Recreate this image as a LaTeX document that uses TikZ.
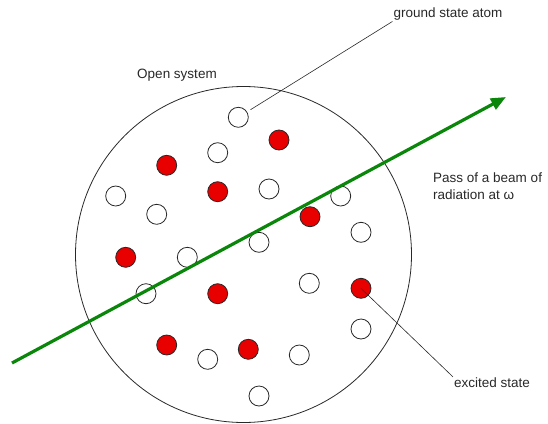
\documentclass[tikz,border=0pt]{standalone}
\usepackage{fontspec}
\setmainfont{Liberation Sans}
\usetikzlibrary{arrows.meta, positioning}
\definecolor{beam-color}{RGB}{10,135,10}
\definecolor{excited-color}{RGB}{232,0,0}
\definecolor{ink-color}{RGB}{40,40,40}

\begin{document}
\begin{tikzpicture}[x=1pt, y=-1pt,
    ground/.style={circle, draw=ink-color, fill=white, minimum size=20pt, inner sep=0pt, line width=0.8pt},
    excited/.style={ground, fill=excited-color},
    label/.style={font=\fontsize{13.5}{17}\selectfont, text=ink-color, inner sep=1pt, align=left},
    leader/.style={draw=ink-color, line width=0.6pt},
    beam/.style={-{Triangle[length=15pt, width=12pt]}, draw=beam-color, line width=3.2pt}]

    \useasboundingbox (0,0) rectangle (548,423);

    % The open system
    \draw[ink-color, line width=0.8pt] (243.5,254.5) circle (168);
    \node[label] (sys) at (177,75) {Open system};

    % Ground state atoms
    \node[ground] (g1) at (238.3,117.3) {};
    \node[ground] (g2) at (217.7,152.7) {};
    \node[ground] (g3) at (115.7,196) {};
    \node[ground] (g4) at (156.7,214.3) {};
    \node[ground] (g5) at (269,189) {};
    \node[ground] (g6) at (340.7,196) {};
    \node[ground] (g7) at (361,232.3) {};
    \node[ground] (g8) at (259,242.3) {};
    \node[ground] (g9) at (187.3,257.3) {};
    \node[ground] (g10) at (146,293.7) {};
    \node[ground] (g11) at (309.3,283.3) {};
    \node[ground] (g12) at (361,329) {};
    \node[ground] (g13) at (207.7,359.3) {};
    \node[ground] (g14) at (299.3,355) {};
    \node[ground] (g15) at (259,396) {};

    % Excited atoms
    \node[excited] (e1) at (279,140) {};
    \node[excited] (e2) at (166.7,165.3) {};
    \node[excited] (e3) at (217.7,191.7) {};
    \node[excited] (e4) at (310,216.7) {};
    \node[excited] (e5) at (125.7,257.3) {};
    \node[excited] (e6) at (217.7,293.7) {};
    \node[excited] (e7) at (361,288.3) {};
    \node[excited] (e8) at (166.7,345) {};
    \node[excited] (e9) at (248.3,349.3) {};

    % Beam of radiation
    \coordinate (bs) at (12,363);
    \coordinate (be) at (506,97);
    \draw[beam] (bs) -- (be);

    % Labels
    \node[label] (gsl) at (448,14) {ground state atom};
    \node[label, anchor=west] (bml) at (432,186) {Pass of a beam of\\radiation at ω};
    \node[label] (exl) at (492,383) {excited state};

    % Leader lines
    \draw[leader, shorten <=4pt] (g1) -- (gsl.south west);
    \draw[leader] (e7.center) -- (exl.north west);
\end{tikzpicture}
\end{document}
